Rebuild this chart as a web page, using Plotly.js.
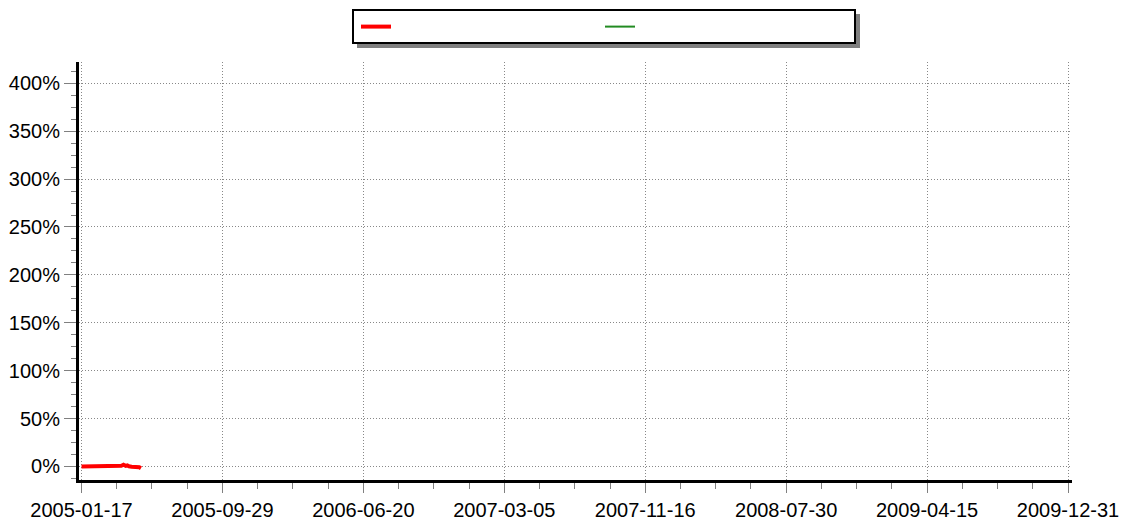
<!DOCTYPE html>
<html>
<head>
<meta charset="utf-8">
<script src="https://cdn.plot.ly/plotly-3.0.1.min.js"></script>
<style>html,body{margin:0;padding:0;background:#fff;}#chart{width:1133px;height:525px;}</style>
</head>
<body>
<div id="chart"></div>
<script>
// Tick labels on the x axis (evenly spaced across the axis)
var xTickLabels = ['2005-01-17','2005-09-29','2006-06-20','2007-03-05','2007-11-16','2008-07-30','2009-04-15','2009-12-31'];
// Y axis ticks (percent)
var yTickValues = [0, 50, 100, 150, 200, 250, 300, 350, 400];
var yTickLabels = ['0%','50%','100%','150%','200%','250%','300%','350%','400%'];

// Series 1 (red)
var redDates = ['2005-01-17','2005-01-24','2005-01-31','2005-02-07','2005-02-14','2005-02-21','2005-02-28','2005-03-07','2005-03-14','2005-03-21','2005-03-28','2005-03-31','2005-04-04','2005-04-06','2005-04-08','2005-04-11','2005-04-14','2005-04-19','2005-04-25','2005-04-29','2005-05-03','2005-05-06'];
var redValues = [0,0,0,0,0,0,0,0,0,0,0,0.8,1.8,1.3,0.6,1.2,0.2,-0.2,-0.4,-0.5,-0.8,-1.8];

// Series 2 (green) - no visible data
var greenDates = ['2005-01-17'];
var greenValues = [null];

var t0 = Date.parse(xTickLabels[0] + 'T00:00:00Z');
var t1 = Date.parse(xTickLabels[xTickLabels.length - 1] + 'T00:00:00Z');
var n = xTickLabels.length - 1;
var step = (t1 - t0) / n;
function iso(ms){ return new Date(ms).toISOString().replace('T',' ').replace('Z','').slice(0,19); }
var tickVals = xTickLabels.map(function(_, i){ return iso(t0 + i * step); });
var minorVals = [];
for (var i = 0; i < n; i++) { for (var k = 1; k < 4; k++) minorVals.push(iso(t0 + i * step + k * step / 4)); }
var day = 86400000;

var traces = [
  {x: redDates, y: redValues, type: 'scatter', mode: 'lines', name: '', line: {color: '#ff0000', width: 4}},
  {x: greenDates, y: greenValues, type: 'scatter', mode: 'lines', name: '', line: {color: '#228b22', width: 2}, showlegend: true}
];

var font = {family: 'Liberation Sans, Arial, sans-serif', size: 20, color: '#000'};
var W = 1133, H = 525;

var layout = {
  width: W, height: H,
  margin: {l: 79, r: 61, t: 62, b: 45, autoexpand: false},
  paper_bgcolor: '#fff', plot_bgcolor: '#fff',
  font: font,
  showlegend: true,
  legend: {
    orientation: 'h', xref: 'container', yref: 'container',
    x: 356 / W, xanchor: 'left', y: 1 - 11 / H, yanchor: 'top',
    bgcolor: 'rgba(0,0,0,0)', borderwidth: 0,
    entrywidth: 199, entrywidthmode: 'pixels',
    font: {family: font.family, size: 14}
  },
  xaxis: {
    type: 'date',
    range: [iso(t0 - 4.6 * day), iso(t1 + 7.3 * day)],
    tickmode: 'array', tickvals: tickVals, ticktext: xTickLabels,
    ticks: 'outside', ticklen: 10, tickwidth: 1, tickcolor: '#808080',
    showline: true, linecolor: '#000', linewidth: 3,
    showgrid: true, gridcolor: '#888', griddash: '1px,2px', gridwidth: 1,
    zeroline: false,
    tickfont: font,
    minor: {tickmode: 'array', tickvals: minorVals, ticks: 'outside', ticklen: 6, tickcolor: '#808080', showgrid: false}
  },
  yaxis: {
    range: [-14.1, 422.2],
    tickmode: 'array', tickvals: yTickValues, ticktext: yTickLabels,
    ticks: 'outside', ticklen: 12, tickwidth: 1, tickcolor: '#808080',
    showline: true, linecolor: '#000', linewidth: 3,
    showgrid: true, gridcolor: '#888', griddash: '1px,2px', gridwidth: 1,
    zeroline: false,
    tickfont: font,
    minor: {dtick: 12.5, tick0: 0, ticks: 'outside', ticklen: 5, tickcolor: '#808080', showgrid: false}
  },
  shapes: [
    // legend shadow
    {type: 'rect', xref: 'paper', yref: 'paper', layer: 'below',
     x0: (357 - 79) / 993, x1: (860 - 79) / 993, y0: 1 + (62 - 48) / 418, y1: 1 + (62 - 14) / 418,
     fillcolor: '#808080', line: {width: 0}},
    // legend box
    {type: 'rect', xref: 'paper', yref: 'paper', layer: 'below',
     x0: (353 - 79) / 993, x1: (855 - 79) / 993, y0: 1 + (62 - 43) / 418, y1: 1 + (62 - 10) / 418,
     fillcolor: '#ffffff', line: {color: '#000', width: 2}}
  ]
};

Plotly.newPlot('chart', traces, layout, {displayModeBar: false, staticPlot: true});
</script>
</body>
</html>
